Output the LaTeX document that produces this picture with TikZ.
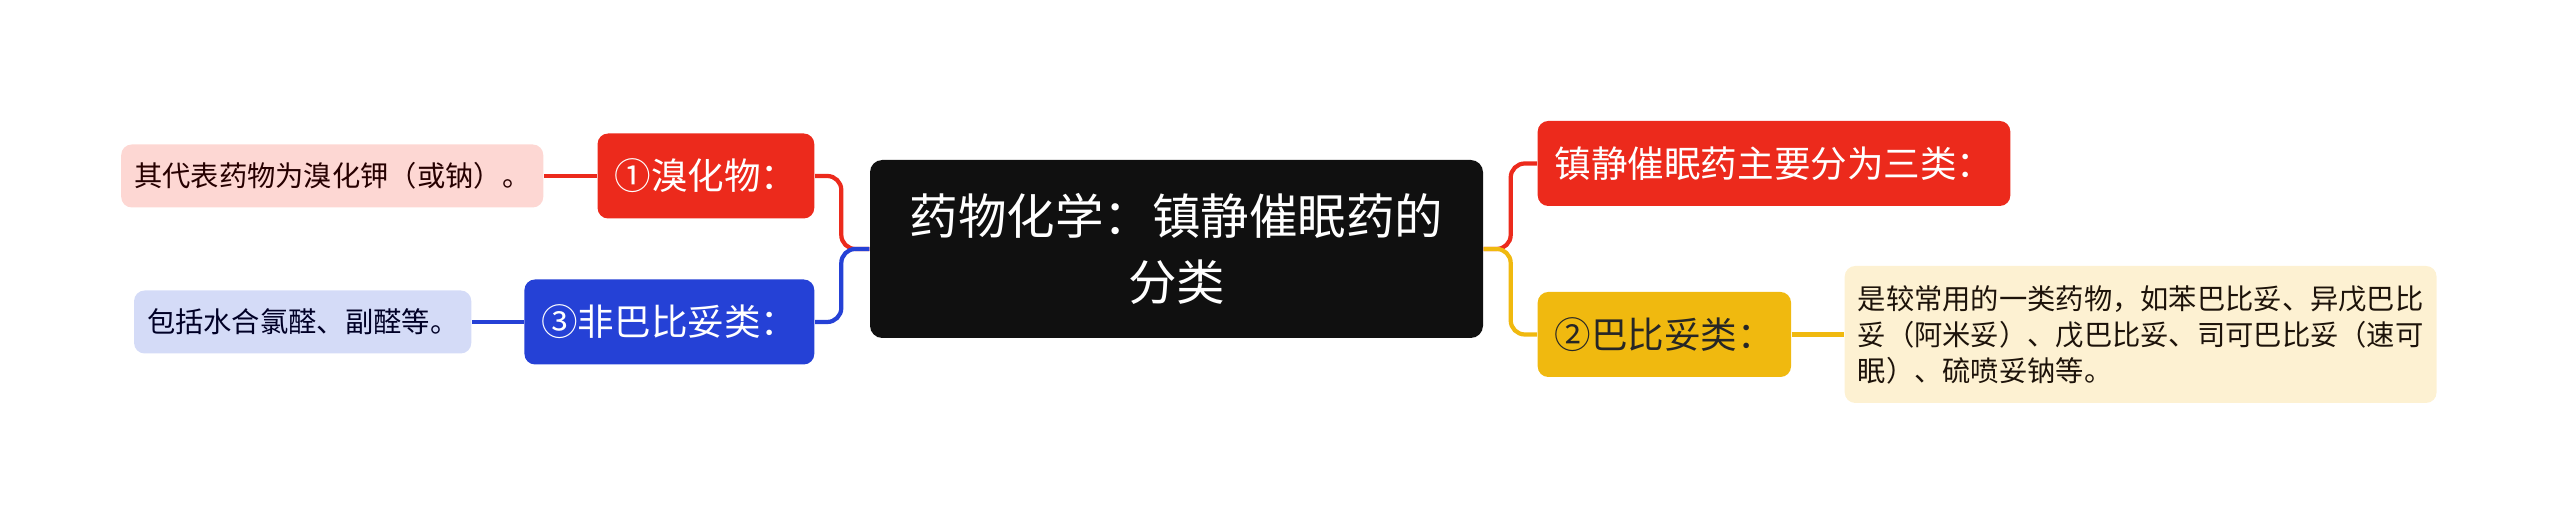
\documentclass[tikz,border=0pt]{standalone}
\usepackage{fontspec}
\setmainfont{Noto Sans CJK SC}
\usepackage{tikz}
\definecolor{zhred}{HTML}{EC2A1C}
\definecolor{zhblue}{HTML}{2541D6}
\definecolor{zhyellow}{HTML}{F0B90F}
\definecolor{zhblack}{HTML}{101010}
\definecolor{leafred}{HTML}{FDD7D3}
\definecolor{leafblue}{HTML}{D4DBF7}
\definecolor{leafyellow}{HTML}{FDF1D2}
\tikzstyle{topic} = [rounded corners=3.5pt, inner sep=0pt, align=center, text=white, fill=zhblack]
\tikzstyle{sub} = [rounded corners=3pt, minimum height=0.85cm, inner xsep=0.17cm, inner ysep=0pt, font=\fontsize{10.4pt}{12pt}\selectfont]
\tikzstyle{leaf} = [rounded corners=3pt, minimum height=0.63cm, inner xsep=0.13cm, inner ysep=0pt, font=\fontsize{8.05pt}{10.24pt}\selectfont]
\tikzstyle{link} = [line width=1.2pt, rounded corners=4pt]

\begin{document}
\begin{tikzpicture}
\useasboundingbox (0,0) rectangle (25.6,5.26);
\node[topic, minimum width=6.13cm, minimum height=1.78cm, font=\fontsize{13.8pt}{18.8pt}\selectfont] (root) at (11.765,2.77) {药物化学：镇静催眠药的\\分类};
\node[sub, fill=zhred, text=white, anchor=east] (bromide) at (8.15,3.50) {①溴化物：};
\node[sub, fill=zhblue, text=white, anchor=east] (nonbarb) at (8.15,2.04) {③非巴比妥类：};
\node[sub, fill=zhred, text=white, anchor=west] (three) at (15.37,3.625) {镇静催眠药主要分为三类：};
\node[sub, fill=zhyellow, text=black!85, anchor=west] (barb) at (15.37,1.915) {②巴比妥类：};
\node[leaf, fill=leafred, text=black!85!red, anchor=east] (bromideleaf) at (5.44,3.50) {其代表药物为溴化钾（或钠）。};
\node[leaf, fill=leafblue, text=black!85!blue, anchor=east] (nonbarbleaf) at (4.72,2.04) {包括水合氯醛、副醛等。};
\node[leaf, fill=leafyellow, text=black!85!brown, anchor=west, align=left, minimum height=1.37cm] (barbleaf) at (18.44,1.915) {是较常用的一类药物，如苯巴比妥、异戊巴比\\妥（阿米妥）、戊巴比妥、司可巴比妥（速可\\眠）、硫喷妥钠等。};
\draw[link, zhred] (root.west) -- ++(-0.28,0) |- (bromide.east);
\draw[link, zhblue] (root.west) -- ++(-0.28,0) |- (nonbarb.east);
\draw[link, zhred] (root.east) -- ++(0.27,0) |- (three.west);
\draw[link, zhyellow] (root.east) -- ++(0.27,0) |- (barb.west);
\draw[link, zhred] (bromide.west) -- (bromideleaf.east);
\draw[link, zhblue] (nonbarb.west) -- (nonbarbleaf.east);
\draw[link, zhyellow] (barb.east) -- (barbleaf.west);
\end{tikzpicture}
\end{document}
